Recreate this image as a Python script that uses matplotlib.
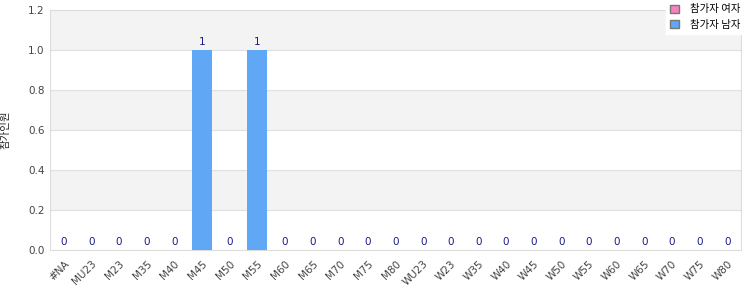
import numpy as np
import matplotlib
matplotlib.use("Agg")
import matplotlib.pyplot as plt
from matplotlib.patches import Patch

plt.rcParams['font.family'] = ['DejaVu Sans', 'Noto Sans CJK KR']

# 데이터
categories = ["#NA", "MU23", "M23", "M35", "M40", "M45", "M50", "M55", "M60",
              "M65", "M70", "M75", "M80", "WU23", "W23", "W35", "W40", "W45",
              "W50", "W55", "W60", "W65", "W70", "W75", "W80"]
female = [0] * 25
male = [0, 0, 0, 0, 0, 1, 0, 1, 0, 0, 0, 0, 0,
        0, 0, 0, 0, 0, 0, 0, 0, 0, 0, 0, 0]
series_names = ["참가자 여자", "참가자 남자"]
y_label = "참가인원"

pink = "#f781bf"
blue = "#60a8f5"

fig = plt.figure(figsize=(7.5, 3), dpi=100)
ax = fig.add_axes([50 / 750, 50 / 300, 691 / 750, 240 / 300])

x = np.arange(len(categories))
ax.bar(x, female, width=0.72, color=pink, zorder=3)
ax.bar(x, male, width=0.72, bottom=female, color=blue, zorder=3)

total = np.array(female) + np.array(male)
for xi, v in zip(x, total):
    ax.text(xi, v + 0.015, str(v), ha="center", va="bottom",
            fontsize=7.5, color="#1a1a8c", zorder=4)

ax.set_xlim(-0.5, len(categories) - 0.5)
ax.set_ylim(0, 1.2)
ax.set_yticks(np.arange(0, 1.21, 0.2))
ax.set_yticklabels([f"{t:.1f}" for t in np.arange(0, 1.21, 0.2)])

# 줄무늬 배경
for i, lo in enumerate(np.arange(0, 1.2, 0.2)):
    if i % 2 == 1:
        ax.axhspan(lo, lo + 0.2, color="#f3f3f3", zorder=0, lw=0)
ax.grid(axis="y", color="#e0e0e0", lw=0.8, zorder=1)

ax.set_xticks(x)
ax.set_xticklabels(categories, rotation=45, ha="right", rotation_mode="anchor")
ax.tick_params(axis="both", length=0, labelsize=7.5, colors="#444444", pad=4)
ax.tick_params(axis="x", pad=6)
for s in ax.spines.values():
    s.set_color("#dddddd")

fig.text(6 / 750, 1 - 130 / 300, y_label, rotation=90, ha="center", va="center",
         family=['Noto Sans CJK KR', 'DejaVu Sans'], fontsize=7.5, color="#222222")

handles = [Patch(facecolor=pink, edgecolor="#777777", lw=1),
           Patch(facecolor=blue, edgecolor="#777777", lw=1)]
leg = fig.legend(handles, series_names, loc="upper left",
                 bbox_to_anchor=(666 / 750, 1.0), frameon=True, fancybox=False,
                 edgecolor="white", facecolor="white", framealpha=1,
                 prop={'family': ['Noto Sans CJK KR', 'DejaVu Sans'], 'size': 7.5},
                 handlelength=0.8, handleheight=0.8, handletextpad=1.1,
                 borderpad=0.4, labelspacing=0.55, borderaxespad=0)

fig.savefig("out.png", dpi=100)
